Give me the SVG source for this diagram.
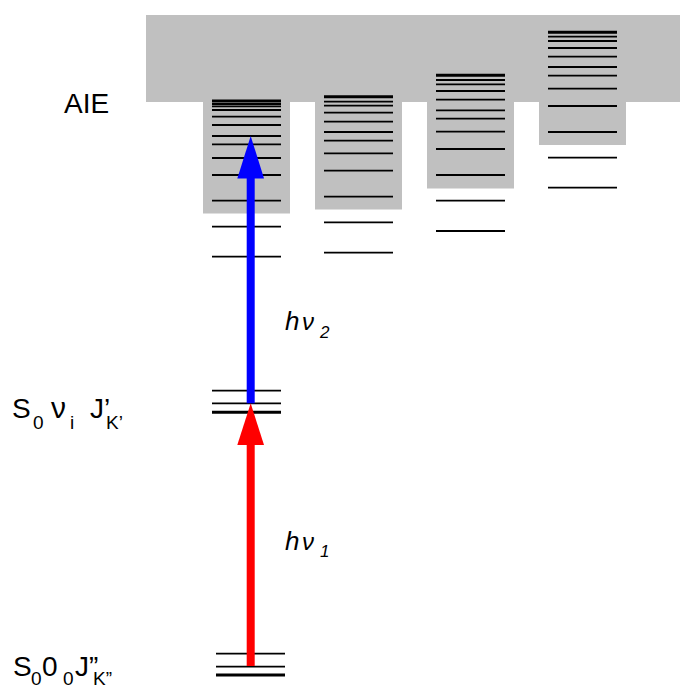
<svg xmlns="http://www.w3.org/2000/svg" width="680" height="687" viewBox="0 0 680 687">
<style>
.bg{fill:#c0c0c0}
.lv{stroke:#000;stroke-width:1.8;fill:none}
.lvt{stroke:#000;stroke-width:3;fill:none}
.lab{font-family:"Liberation Sans",Arial,sans-serif;fill:#000}
.it{font-style:italic}
</style>
<rect width="680" height="687" fill="#fff"/>
<g id="continuum">
<rect class="bg" x="146" y="15" width="534" height="87"/>
</g>
<g id="column1">
<rect class="bg" x="203" y="100" width="87" height="113.5"/>
<path class="lvt" d="M212 101H281"/>
<path class="lv" d="M212 104H281M212 106.3H281M212 110H281M212 116.7H281M212 125H281M212 136H281M212 144.3H281M212 158H281M212 175H281M212 200.7H281M212 226.7H281M212 256.7H281"/>
</g>
<g id="column2">
<rect class="bg" x="315" y="100" width="87" height="109.5"/>
<path class="lvt" d="M324 96.7H393"/>
<path class="lv" d="M324 101.7H393M324 105.7H393M324 112.7H393M324 121.7H393M324 132H393M324 140.7H393M324 153.3H393M324 170.7H393M324 196.7H393M324 222.3H393M324 252.7H393"/>
</g>
<g id="column3">
<rect class="bg" x="427" y="100" width="87" height="88.5"/>
<path class="lvt" d="M436 75.3H505"/>
<path class="lv" d="M436 80H505M436 84.3H505M436 91H505M436 99.7H505M436 110.3H505M436 118.7H505M436 131.7H505M436 149H505M436 175H505M436 200.7H505M436 231H505"/>
</g>
<g id="column4">
<rect class="bg" x="539" y="100" width="87" height="45"/>
<path class="lvt" d="M548 32.3H617"/>
<path class="lv" d="M548 36.7H617M548 41H617M548 48H617M548 56.7H617M548 67H617M548 75.7H617M548 88.7H617M548 106H617M548 132H617M548 157.7H617M548 187.7H617"/>
</g>
<g id="intermediate">
<path class="lv" d="M212 390.7H281M212 403.3H281"/>
<path class="lvt" d="M212 412.3H281"/>
</g>
<g id="ground">
<path class="lv" d="M216 653.7H285M216 666.7H285"/>
<path class="lvt" d="M216 675H285"/>
</g>
<g id="connectors">
<g id="arrow-hv2" fill="#0000ff">
<rect x="246.7" y="176" width="8" height="227.3"/>
<polygon points="250.7,136 237.3,178.5 264,178.5"/>
</g>
<g id="arrow-hv1" fill="#ff0000">
<rect x="246.7" y="443" width="8" height="223"/>
<polygon points="250.7,403.3 237.3,445 264,445"/>
</g>
</g>
<g id="label-aie">
<text class="lab" x="64" y="113" font-size="28">AIE</text>
</g>
<g id="label-s0vi">
<text class="lab" y="418" font-size="28"><tspan x="12">S</tspan><tspan x="33" y="429" font-size="19">0</tspan><tspan x="51" y="418" font-size="30">ν</tspan><tspan x="70" y="429" font-size="19">i</tspan><tspan x="90" y="418">J’</tspan><tspan x="106" y="429" font-size="19">K’</tspan></text>
</g>
<g id="label-s000">
<text class="lab" y="676" font-size="28"><tspan x="13">S</tspan><tspan x="31" y="685" font-size="19">0</tspan><tspan x="42" y="676">0</tspan><tspan x="63" y="685" font-size="19">0</tspan><tspan x="75" y="676">J”</tspan><tspan x="93" y="685" font-size="19">K”</tspan></text>
</g>
<g id="label-hv2">
<text class="lab it" y="330" font-size="26"><tspan x="285">h</tspan><tspan x="302" font-size="24">ν</tspan><tspan x="320" y="338" font-size="17">2</tspan></text>
</g>
<g id="label-hv1">
<text class="lab it" y="550" font-size="26"><tspan x="285">h</tspan><tspan x="302" font-size="24">ν</tspan><tspan x="320" y="557" font-size="17">1</tspan></text>
</g>
</svg>
